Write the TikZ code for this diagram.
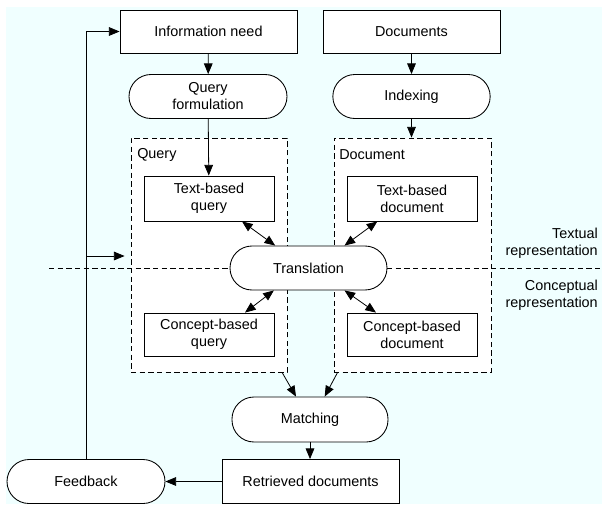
\documentclass[tikz,border=0pt]{standalone}
\usepackage{fontspec}
\setmainfont{Liberation Sans}
\usetikzlibrary{arrows.meta,calc}
\definecolor{bgcyan}{RGB}{240,255,255}
\tikzset{
  every node/.style={font=\fontsize{10.8}{12.8}\selectfont, align=center, inner sep=0pt},
  box/.style={draw, fill=white, line width=0.65pt},
  pill/.style={draw, fill=white, line width=0.65pt, rounded corners=16.5pt},
  group/.style={draw, fill=white, line width=0.65pt, dash pattern=on 4pt off 2.5pt},
  conn/.style={line width=0.6pt, -{Triangle[length=8pt,width=6.5pt]}},
  biconn/.style={line width=0.6pt, {Triangle[length=8pt,width=6.5pt]}-{Triangle[length=8pt,width=6.5pt]}},
  sep/.style={line width=0.65pt, dash pattern=on 4pt off 2.5pt},
  lbl/.style={anchor=west, align=left},
  side/.style={anchor=east, align=right}
}
\begin{document}
\begin{tikzpicture}[x=0.75pt,y=-0.75pt]
\useasboundingbox (0,0) rectangle (602,504);
\fill[bgcyan] (6,7) rectangle (602,504);

% top row
\node[box, minimum width=132.75pt, minimum height=32.25pt] (info) at (208.5,31.5) {Information need};
\node[box, minimum width=132.75pt, minimum height=32.25pt] (docs) at (411.5,31.5) {Documents};
\node[pill, minimum width=118.5pt, minimum height=33pt] (qform) at (208,96.5) {Query\\formulation};
\node[pill, minimum width=118pt, minimum height=33pt] (index) at (411.5,96.5) {Indexing};

% dashed groups
\node[group, minimum width=117pt, minimum height=175.5pt] (qbox) at (209,255) {};
\node[group, minimum width=117.75pt, minimum height=175.5pt] (dbox) at (412.5,255) {};
\node[lbl] (qlbl) at (137,155) {Query};
\node[lbl] (dlbl) at (339,155) {Document};

% separator line
\coordinate (hl) at (49,268);
\coordinate (hr) at (602,268);
\draw[sep] (hl) -- (hr);

% inner nodes
\node[box, minimum width=97.5pt, minimum height=33.75pt] (tq) at (209,198.5) {Text-based\\query};
\node[box, minimum width=97.5pt, minimum height=32.25pt] (cq) at (209,334.5) {Concept-based\\query};
\node[box, minimum width=97.5pt, minimum height=33.75pt] (td) at (412,198.5) {Text-based\\document};
\node[box, minimum width=97.5pt, minimum height=32.25pt] (cd) at (412,334.5) {Concept-based\\document};
\node[pill, minimum width=117.75pt, minimum height=33pt] (trans) at (308.5,268) {Translation};

% bottom
\node[pill, minimum width=117pt, minimum height=33.75pt] (match) at (310,419.5) {Matching};
\node[box, minimum width=132.75pt, minimum height=33pt] (retr) at (310.5,481.5) {Retrieved documents};
\node[pill, minimum width=118.5pt, minimum height=33pt] (fb) at (86,481.5) {Feedback};

% side labels
\node[side] (textual) at (598,243.5) {Textual\\representation};
\node[side] (concept) at (598,295.5) {Conceptual\\representation};

% connectors
\draw[conn] (info) -- (qform);
\draw[conn] (docs.south -| index.north) -- (index);
\draw[conn] (qform) -- (tq);
\draw[conn] (index) -- (dbox.north -| index.south);
\draw[biconn] ([xshift=24.75pt]tq.south) -- ([xshift=-25pt]trans.north);
\draw[biconn] ([xshift=27pt]cq.north) -- ([xshift=-26pt]trans.south);
\draw[biconn] ([xshift=-26pt]td.south) -- ([xshift=27pt]trans.north);
\draw[biconn] ([xshift=-27pt]cd.north) -- ([xshift=27pt]trans.south);
\draw[conn] ([xshift=-4pt]qbox.south east) -- ([xshift=-10.5pt]match.north);
\draw[conn] ([xshift=3pt]dbox.south west) -- ([xshift=11pt]match.north);
\draw[conn] (match) -- (match.south |- retr.north);
\draw[conn] (retr) -- (fb);
\draw[conn] (fb.north) |- (info.west);
\coordinate (fbq) at (86,256);
\draw[conn] (fbq) -- ([xshift=-4.5pt]qbox.west |- fbq);
\end{tikzpicture}
\end{document}
